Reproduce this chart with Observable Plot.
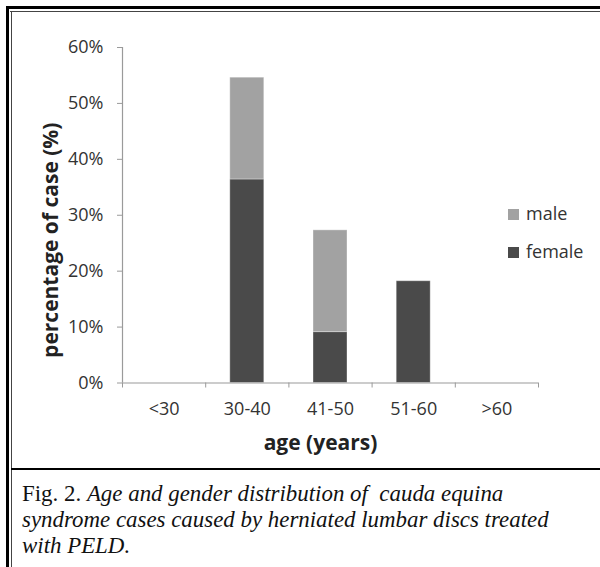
<!DOCTYPE html>
<html><head><meta charset="utf-8">
<script src="https://cdn.jsdelivr.net/npm/d3@7"></script>
<script src="https://cdn.jsdelivr.net/npm/@observablehq/plot@0.6"></script>
<style>
body{margin:0;background:#fff;}
#fig{position:relative;width:600px;height:567px;overflow:hidden;background:#fff;}
#chart{position:absolute;left:0;top:0;}
.ln{position:absolute;background:#000;}
#caption{position:absolute;left:22px;top:481px;font-family:"Liberation Serif",serif;font-size:22.9px;line-height:26px;color:#111;white-space:nowrap;}
.sw{position:absolute;width:11px;height:11px;}
.lt{position:absolute;font-family:"Open Sans",sans-serif;font-size:18px;color:#333;line-height:20px;}
</style></head><body>
<div id="fig">
  <div id="chart"></div>
  <div class="sw" style="left:508px;top:209px;background:#a2a2a2"></div>
  <div class="lt" style="left:526px;top:203px">male</div>
  <div class="sw" style="left:508px;top:247px;background:#4a4a4a"></div>
  <div class="lt" style="left:526px;top:241px">female</div>
  <div class="ln" style="left:6px;top:6px;width:594px;height:2.5px"></div>
  <div class="ln" style="left:10px;top:10.5px;width:590px;height:1.2px;background:#444"></div>
  <div class="ln" style="left:6px;top:6px;width:2.5px;height:561px"></div>
  <div class="ln" style="left:10.5px;top:10.5px;width:1.2px;height:557px;background:#444"></div>
  <div class="ln" style="left:10.5px;top:467.5px;width:590px;height:2.5px"></div>
  <div id="caption">Fig. 2. <i>Age and gender distribution of&nbsp; cauda equina</i><br><i>syndrome cases caused by herniated lumbar discs treated</i><br><i>with PELD.</i></div>
</div>
<script>
const categories = ["<30", "30-40", "41-50", "51-60", ">60"];
const female = [0, 36.4, 9.1, 18.2, 0];
const male = [0, 18.2, 18.2, 0, 0];
const seriesNames = ["female", "male"];
const seriesColors = ["#4a4a4a", "#a2a2a2"];
const yTicks = [0, 10, 20, 30, 40, 50, 60];
const yTitle = "percentage of case (%)";
const xTitle = "age (years)";

const rows = [];
categories.forEach((c, i) => {
  rows.push({i, cat: c, sex: "female", y1: 0, y2: female[i]});
  rows.push({i, cat: c, sex: "male", y1: female[i], y2: female[i] + male[i]});
});

const chart = Plot.plot({
  width: 600,
  height: 467,
  marginLeft: 122,
  marginRight: 62,
  marginTop: 47,
  marginBottom: 84.5,
  style: {fontFamily: "Open Sans", fontSize: "18px", background: "transparent"},
  x: {domain: [0, categories.length], axis: null},
  y: {domain: [0, 60], axis: null},
  color: {domain: seriesNames, range: seriesColors},
  marks: [
    Plot.rect(rows.filter(d => d.y2 > d.y1), {x1: "i", x2: d => d.i + 1, y1: "y1", y2: "y2", fill: "sex", insetLeft: 24.6, insetRight: 24.6, stroke: "#ffffff", strokeOpacity: 0.35, strokeWidth: 1}),
    Plot.ruleY([0], {stroke: "#9a9a9a", strokeWidth: 1.2}),
    Plot.ruleX([0], {stroke: "#9a9a9a", strokeWidth: 1.2}),
    Plot.axisY({ticks: yTicks, tickSize: 5, tickPadding: 14, tickFormat: d => d + "%", stroke: "#9a9a9a", fill: "#333", label: null}),
    Plot.axisX({ticks: d3.range(categories.length + 1), tickSize: 5, tickFormat: () => "", stroke: "#9a9a9a", label: null}),
    Plot.text(categories, {x: (d, i) => i + 0.5, y: () => 0, text: d => d, dy: 26, fill: "#333"}),
    Plot.text([yTitle], {frameAnchor: "left", text: d => d, rotate: -90, textAnchor: "middle", lineAnchor: "middle", dx: -71, dy: 25, fontWeight: "bold", fontSize: 21, fill: "#222"}),
    Plot.text([xTitle], {frameAnchor: "bottom", text: d => d, textAnchor: "middle", lineAnchor: "middle", dx: -10, dy: 60, fontWeight: "bold", fontSize: 21, fill: "#222"})
  ]
});
document.getElementById("chart").appendChild(chart);
</script>
</body></html>
